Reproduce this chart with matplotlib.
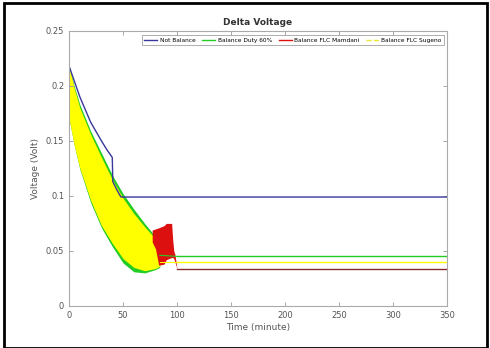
import matplotlib.pyplot as plt
from matplotlib.patches import Rectangle

# time points for the early (oscillating) part, minutes
t_band = [0, 5, 10, 20, 30, 40, 50, 60, 70, 80, 84]
green_hi = [0.218, 0.199, 0.183, 0.159, 0.139, 0.119, 0.102, 0.088, 0.075, 0.063, 0.058]
green_lo = [0.170, 0.145, 0.124, 0.094, 0.071, 0.054, 0.039, 0.031, 0.030, 0.033, 0.035]
yellow_hi = [0.218, 0.197, 0.180, 0.156, 0.135, 0.115, 0.098, 0.084, 0.072, 0.061, 0.056]
yellow_lo = [0.170, 0.145, 0.125, 0.096, 0.073, 0.057, 0.043, 0.035, 0.032, 0.034, 0.036]

# not balance
t_blue = [0, 10, 20, 30, 35, 40, 40.5, 44, 48, 350]
v_blue = [0.218, 0.19, 0.167, 0.15, 0.142, 0.135, 0.113, 0.106, 0.099, 0.099]

# red (FLC Mamdani) blob
t_red = [77, 80, 83, 88, 90, 95, 96, 97, 98, 100]
red_hi = [0.069, 0.070, 0.071, 0.073, 0.075, 0.075, 0.060, 0.050, 0.047, 0.034]
red_lo = [0.058, 0.052, 0.037, 0.038, 0.042, 0.044, 0.044, 0.043, 0.040, 0.034]

# steady-state tails
t_tail = [100, 350]
green_tail = [0.045, 0.045]
yellow_tail = [0.040, 0.040]
red_tail = [0.034, 0.034]

c_blue = '#38389a'
c_green = '#22cc22'
c_red = '#dd1010'
c_yellow = '#ffff00'

fig = plt.figure(figsize=(4.9, 3.48), dpi=100)
ax = fig.add_axes([0.141, 0.121, 0.771, 0.790])

ax.plot(t_blue, v_blue, color=c_blue, lw=1.0, label='Not Balance')

ax.fill_between(t_band, green_lo, green_hi, color=c_green, lw=0)
ax.plot([t_band[-1], 100], [0.046, green_tail[0]], color=c_green, lw=0.8)
ax.plot(t_tail, green_tail, color=c_green, lw=1.0, label='Balance Duty 60%')

ax.fill_between(t_band, yellow_lo, yellow_hi, color=c_yellow, lw=0)
ax.plot([t_band[-1], 100], [0.040, yellow_tail[0]], color=c_yellow, lw=0.8)
ax.plot(t_tail, yellow_tail, color=c_yellow, lw=1.0)

ax.fill_between(t_red, red_lo, red_hi, color=c_red, lw=0)
ax.plot(t_tail, red_tail, color='#8a2a2a', lw=1.0)

# legend handles
ax.plot([], [], color=c_red, lw=1.0, label='Balance FLC Mamdani')
ax.plot([], [], color='#e8e830', lw=1.0, ls='--', label='Balance FLC Sugeno')
h, l = ax.get_legend_handles_labels()
leg = ax.legend(h, l, ncol=4, loc='upper right', fontsize=4.2, frameon=True,
                fancybox=False, edgecolor='#888888', handlelength=2.2,
                columnspacing=1.2, handletextpad=0.4, borderaxespad=0.5,
                bbox_to_anchor=(1.0, 0.995))
leg.get_frame().set_linewidth(0.6)

ax.set_xlim(0, 350)
ax.set_ylim(0, 0.25)
ax.set_xticks([0, 50, 100, 150, 200, 250, 300, 350])
ax.set_yticks([0, 0.05, 0.1, 0.15, 0.2, 0.25])
ax.set_yticklabels(['0', '0.05', '0.1', '0.15', '0.2', '0.25'])
ax.tick_params(direction='in', length=3, width=0.6, colors='#999999',
               labelcolor='#555555', labelsize=6, top=True, right=True)
for s in ax.spines.values():
    s.set_color('#aaaaaa')
    s.set_linewidth(0.8)

ax.set_title('Delta Voltage', fontsize=6.5, color='#333333', fontweight='bold', pad=4)
ax.set_xlabel('Time (minute)', fontsize=6.5, color='#555555', labelpad=2)
ax.set_ylabel('Voltage (Volt)', fontsize=6.5, color='#555555', labelpad=4)

# outer black frame
fig.patches.append(Rectangle((4 / 490, 0), 483 / 490, 345 / 348, transform=fig.transFigure,
                             fill=False, edgecolor='black', lw=2.0))

fig.savefig('out.png', dpi=100)
